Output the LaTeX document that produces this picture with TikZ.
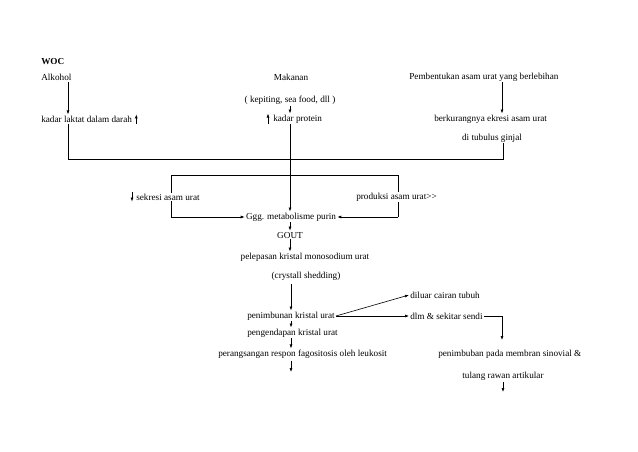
\documentclass[tikz,border=0pt]{standalone}
\usepackage{fontspec}
\setmainfont{Liberation Serif}
\usetikzlibrary{arrows.meta}
\tikzset{
  txt/.style={inner sep=1pt,font=\fontsize{9.2}{11}\selectfont},
  lbl/.style={txt,anchor=west},
  cover/.style={txt,anchor=west,fill=white},
  arr/.style={-{Latex[length=4pt,width=3pt]}},
}
\begin{document}
\begin{tikzpicture}[x=1pt,y=-1pt,line width=0.6pt]
        \useasboundingbox (0,0) rectangle (638,452);

        % top row
        \node[lbl,font=\fontsize{9.2}{11}\selectfont\bfseries] (woc) at (40,62) {WOC};
        \node[lbl] (alkohol) at (40,77) {Alkohol};
        \node[txt] (makanan) at (291,77) {Makanan};
        \node[lbl] (pembentukan) at (408,77) {Pembentukan asam urat yang berlebihan};
        \node[txt] (kepiting) at (290,100) {( kepiting, sea food, dll )};

        \node[lbl] (laktat) at (40,119) {kadar laktat dalam darah};
        \node[lbl] (protein) at (272,119) {kadar protein};
        \node[lbl] (ekresi) at (433,119) {berkurangnya ekresi asam urat};
        \node[txt] (tubulus) at (492,138) {di tubulus ginjal};

        \draw[arr] (alkohol.south -| 68,0) -- (laktat.north -| 68,0);
        \draw[arr] (kepiting.south -| 290,0) -- (protein.north -| 290,0);
        \draw[arr] (pembentukan.south -| 502,0) -- (ekresi.north -| 502,0);
        \draw[arr] ([xshift=3pt]laktat.south east) -- ([xshift=3pt]laktat.north east);
        \draw[arr] ([xshift=-4pt]protein.south west) -- ([xshift=-4pt]protein.north west);

        % merge line
        \draw (laktat.south -| 68,0) |- (503,159) -- (tubulus.south -| 503,0);

        % middle
        \node[txt] (purin) at (291,217) {Ggg. metabolisme purin};
        \draw[arr] (protein.south -| 290,0) -- (purin.north -| 290,0);
        \draw (171,217) |- (398,175) -- (398,217);
        \draw[arr] (171,217) -- (purin.west);
        \draw[arr] (398,217) -- (purin.east);
        \node[cover] (sekresi) at (135,197) {sekresi asam urat};
        \node[cover] (produksi) at (355,197) {produksi asam urat{>}{>}};
        \draw[arr] ([xshift=-3pt]sekresi.north west) -- ([xshift=-3pt]sekresi.south west);

        \node[txt] (gout) at (290,235) {GOUT};
        \node[txt] (pelepasan) at (305,257) {pelepasan kristal monosodium urat};
        \node[txt] (shedding) at (306,276) {(crystall shedding)};
        \draw[arr] (purin.south -| 290,0) -- (gout.north -| 290,0);
        \draw[arr] (gout.south -| 290,0) -- (pelepasan.north -| 290,0);

        % bottom
        \node[lbl] (penimbunan) at (246,316) {penimbunan kristal urat};
        \node[lbl] (diluar) at (409,295) {diluar cairan tubuh};
        \node[lbl] (sendi) at (409,316) {dlm \& sekitar sendi};
        \node[lbl] (pengendapan) at (246,333) {pengendapan kristal urat};
        \node[lbl] (fagositosis) at (217,354) {perangsangan respon fagositosis oleh leukosit};
        \node[lbl] (membran) at (437,354) {penimbuban pada membran sinovial \&};
        \node[txt] (artikular) at (503,376) {tulang rawan artikular};

        \coordinate (endleft) at (291,372);
        \coordinate (endright) at (503,392);
        \coordinate (turn) at (502,340);

        \draw[arr] (shedding.south -| 291,0) ++(0,3) -- (penimbunan.north -| 291,0);
        \draw[arr] (penimbunan.east) -- (diluar.west);
        \draw[arr] (penimbunan.east) -- (sendi.west);
        \draw[arr] (sendi.east) -| (turn);
        \draw[arr] (penimbunan.south -| 291,0) -- (pengendapan.north -| 291,0);
        \draw[arr] (pengendapan.south -| 291,0) -- (fagositosis.north -| 291,0);
        \draw[arr] (fagositosis.south -| 291,0) ++(0,1) -- (endleft);
        \draw[arr] (artikular.south -| 503,0) ++(0,1) -- (endright);
    \end{tikzpicture}
\end{document}
